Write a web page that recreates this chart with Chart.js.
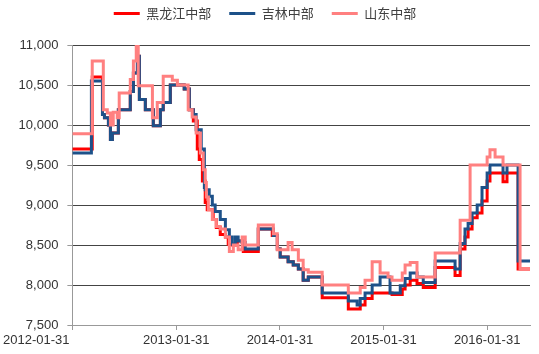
<!DOCTYPE html>
<html lang="zh">
<head>
<meta charset="UTF-8">
<title>玉米价格</title>
<script src="https://cdn.jsdelivr.net/npm/chart.js"></script>
<style>
    body { margin: 0; background: #fff; }
    #wrap { width: 539px; height: 354px; }
</style>
</head>
<body>
<div id="wrap"><canvas id="priceChart" width="539" height="354"></canvas></div>
<script>
    // days counted from 2012-01-31, value is the price from that day on (step line)
    const hljDays   = [0, 70, 106, 113, 127, 134, 141, 162, 204, 215, 229, 236, 257, 285, 310, 320, 345, 394, 412, 426, 440, 447, 458, 468, 475, 496, 507, 521, 539, 549, 563, 581, 602, 655, 704, 722, 732, 760, 778, 796, 813, 831, 880, 972, 1014, 1031, 1056, 1126, 1162, 1172, 1190, 1214, 1236, 1278, 1348, 1366, 1383, 1394, 1408, 1426, 1443, 1461, 1471, 1517, 1531, 1570, 1612];
    const hljPrice  = [9700, 10600, 10130, 10090, 10000, 9820, 9900, 10190, 10420, 10650, 10860, 10320, 10190, 9990, 10190, 10280, 10500, 10450, 10190, 10050, 9700, 9570, 9300, 9030, 8940, 8820, 8720, 8630, 8600, 8510, 8500, 8550, 8420, 8700, 8620, 8450, 8350, 8290, 8250, 8200, 8060, 8100, 7840, 7700, 7750, 7830, 7900, 7880, 7950, 8000, 8060, 8020, 7970, 8220, 8120, 8450, 8600, 8700, 8840, 8900, 9050, 9300, 9400, 9290, 9400, 8200, 8200];

    const jlDays    = [0, 67, 106, 113, 127, 134, 141, 162, 204, 215, 229, 236, 257, 285, 310, 320, 345, 394, 412, 426, 436, 454, 465, 468, 482, 493, 503, 521, 539, 553, 563, 574, 584, 598, 609, 655, 708, 722, 732, 760, 778, 796, 813, 831, 880, 972, 1003, 1014, 1031, 1056, 1084, 1119, 1155, 1172, 1190, 1214, 1236, 1278, 1348, 1366, 1383, 1394, 1408, 1426, 1443, 1461, 1471, 1517, 1531, 1570, 1612];
    const jlPrice   = [9650, 10550, 10130, 10090, 10000, 9820, 9900, 10190, 10420, 10650, 10860, 10320, 10190, 9990, 10190, 10280, 10500, 10450, 10190, 10130, 9940, 9700, 9220, 9190, 9110, 9000, 8920, 8820, 8690, 8600, 8510, 8600, 8550, 8530, 8450, 8700, 8620, 8450, 8350, 8290, 8250, 8200, 8060, 8100, 7900, 7800, 7750, 7830, 7900, 8000, 8100, 7900, 7990, 8080, 8150, 8100, 8030, 8300, 8200, 8520, 8700, 8770, 8900, 9000, 9220, 9400, 9500, 9400, 9500, 8300, 8300];

    const sdDays    = [0, 70, 109, 123, 134, 144, 158, 165, 204, 215, 225, 232, 282, 299, 320, 352, 370, 408, 422, 436, 451, 461, 468, 472, 479, 493, 507, 521, 539, 553, 567, 584, 598, 609, 655, 708, 722, 760, 774, 796, 813, 831, 880, 972, 1014, 1031, 1056, 1084, 1112, 1126, 1162, 1172, 1190, 1214, 1278, 1366, 1401, 1461, 1471, 1489, 1517, 1577, 1612];
    const sdPrice   = [9890, 10800, 10190, 10150, 10000, 10160, 10090, 10400, 10570, 10800, 11000, 10490, 10090, 10280, 10610, 10560, 10500, 10190, 10100, 9900, 9650, 9440, 9280, 9100, 8940, 8820, 8730, 8700, 8600, 8420, 8500, 8440, 8600, 8500, 8750, 8640, 8440, 8530, 8440, 8310, 8190, 8160, 8000, 7900, 7970, 8060, 8290, 8150, 8100, 8060, 8150, 8250, 8280, 8100, 8400, 8810, 9500, 9600, 9690, 9600, 9500, 8200, 8200];

    const tickDays   = [0, 366, 731, 1096, 1461];
    const tickLabels = ['2012-01-31', '2013-01-31', '2014-01-31', '2015-01-31', '2016-01-31'];

    const toPoints = (days, price) => days.map((d, i) => ({ x: d, y: price[i] }));

    // legend needs a fixed height so the plot starts at the same place as the picture
    const legendHeight = {
        id: 'legendHeight',
        beforeInit(chart) {
            const fit = chart.legend.fit;
            chart.legend.fit = function () {
                fit.bind(chart.legend)();
                this.height = 56;
            };
        }
    };

    const ctx = document.getElementById('priceChart').getContext('2d');
    new Chart(ctx, {
        type: 'line',
        data: {
            datasets: [{
                label: '黑龙江中部',
                data: toPoints(hljDays, hljPrice),
                borderColor: '#ff0000',
                backgroundColor: '#ff0000',
                order: 2
            }, {
                label: '吉林中部',
                data: toPoints(jlDays, jlPrice),
                borderColor: '#1d5189',
                backgroundColor: '#1d5189',
                order: 1
            }, {
                label: '山东中部',
                data: toPoints(sdDays, sdPrice),
                borderColor: '#ff8080',
                backgroundColor: '#ff8080',
                order: 0
            }]
        },
        options: {
            responsive: false,
            animation: false,
            layout: { padding: { top: -11, right: 9, bottom: 4, left: 0 } },
            elements: {
                line: { borderWidth: 3, stepped: true, tension: 0 },
                point: { radius: 0 }
            },
            plugins: {
                tooltip: { enabled: false },
                legend: {
                    position: 'top',
                    labels: {
                        boxWidth: 26,
                        boxHeight: 0,
                        padding: 18,
                        color: '#404040',
                        font: { family: '"Noto Sans CJK SC", "Liberation Sans"', size: 13 },
                        sort: (a, b) => a.datasetIndex - b.datasetIndex
                    }
                }
            },
            scales: {
                x: {
                    type: 'linear',
                    min: 0,
                    max: 1612,
                    afterBuildTicks: s => { s.ticks = tickDays.map(v => ({ value: v })); },
                    afterFit: s => { s.height = 25; },
                    border: { display: true, color: '#999999' },
                    grid: { drawOnChartArea: false, drawTicks: true, tickLength: 5, color: '#999999' },
                    ticks: {
                        autoSkip: false,
                        maxRotation: 0,
                        padding: 3,
                        color: '#333333',
                        font: { family: '"Liberation Sans", Arial', size: 13 },
                        // first label sits left of the axis in the original, pad it on the right
                        callback: v => {
                            const i = tickDays.indexOf(v);
                            if (i < 0) return '';
                            return i === 0 ? tickLabels[0] + ' '.repeat(20) : tickLabels[i];
                        }
                    }
                },
                y: {
                    min: 7500,
                    max: 11000,
                    afterFit: s => { s.width = 72; },
                    border: { display: true, color: '#999999' },
                    grid: {
                        color: '#444444',
                        borderDash: [1, 1],
                        tickBorderDash: [],
                        tickColor: '#999999',
                        tickLength: 5
                    },
                    ticks: {
                        stepSize: 500,
                        padding: 9,
                        color: '#333333',
                        font: { family: '"Liberation Sans", Arial', size: 13 },
                        callback: v => v.toLocaleString('en-US')
                    }
                }
            }
        },
        plugins: [legendHeight]
    });
</script>
</body>
</html>
